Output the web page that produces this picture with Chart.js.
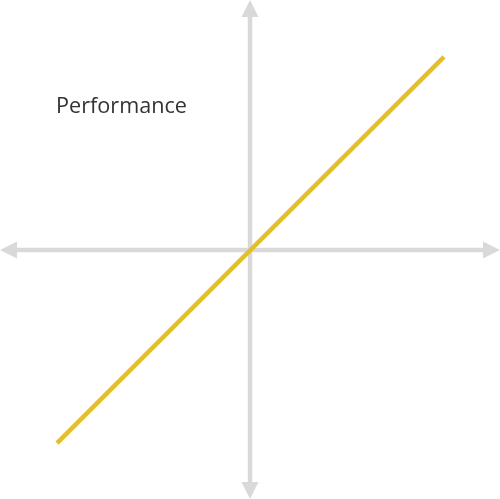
<!DOCTYPE html>
<html>
<head>
<meta charset="utf-8">
<script src="https://cdn.jsdelivr.net/npm/chart.js@4/dist/chart.umd.min.js"></script>
<style>
  html, body { margin: 0; padding: 0; background: #ffffff; }
  #wrap { width: 500px; height: 499px; position: relative; }
</style>
</head>
<body>
<div id="wrap"><canvas id="c"></canvas></div>
<script>
// Data
const lineX = [-0.772, 0.776];
const lineY = [-0.776, 0.772];
const axisMin = -1;
const axisMax = 1;
const titleText = "Performance";

const points = lineX.map((x, i) => ({ x: x, y: lineY[i] }));

const axesPlugin = {
  id: 'crossAxes',
  beforeDatasetsDraw(chart) {
    const ctx = chart.ctx;
    const xs = chart.scales.x, ys = chart.scales.y;
    const x0 = xs.getPixelForValue(0), y0 = ys.getPixelForValue(0) + 0.5;
    const left = xs.getPixelForValue(axisMin), right = xs.getPixelForValue(axisMax);
    const top = ys.getPixelForValue(axisMax), bottom = ys.getPixelForValue(axisMin);
    const head = 17, half = 8.5;
    ctx.save();
    ctx.strokeStyle = '#d9d9d9';
    ctx.fillStyle = '#d9d9d9';
    ctx.lineWidth = 4.5;
    // horizontal
    ctx.beginPath();
    ctx.moveTo(left + head - 1, y0); ctx.lineTo(right - head + 1, y0); ctx.stroke();
    // vertical
    ctx.beginPath();
    ctx.moveTo(x0, top + head - 1); ctx.lineTo(x0, bottom - head + 1); ctx.stroke();
    // arrow heads
    ctx.beginPath();
    ctx.moveTo(left, y0); ctx.lineTo(left + head, y0 - half); ctx.lineTo(left + head, y0 + half); ctx.closePath(); ctx.fill();
    ctx.beginPath();
    ctx.moveTo(right, y0); ctx.lineTo(right - head, y0 - half); ctx.lineTo(right - head, y0 + half); ctx.closePath(); ctx.fill();
    ctx.beginPath();
    ctx.moveTo(x0, top); ctx.lineTo(x0 - half, top + head); ctx.lineTo(x0 + half, top + head); ctx.closePath(); ctx.fill();
    ctx.beginPath();
    ctx.moveTo(x0, bottom); ctx.lineTo(x0 - half, bottom - head); ctx.lineTo(x0 + half, bottom - head); ctx.closePath(); ctx.fill();
    // title text
    ctx.fillStyle = '#333333';
    ctx.font = '21px "Open Sans"';
    ctx.textBaseline = 'alphabetic';
    ctx.textAlign = 'left';
    const w = ctx.measureText(titleText).width;
    ctx.save();
    ctx.translate(56, 112.5);
    ctx.scale(131 / w, 1);
    ctx.fillText(titleText, 0, 0);
    ctx.restore();
    ctx.restore();
  }
};

new Chart(document.getElementById('c'), {
  type: 'scatter',
  data: {
    datasets: [{
      data: points,
      showLine: true,
      borderColor: '#e5bf2b',
      borderWidth: 4.5,
      pointRadius: 0,
      borderCapStyle: 'butt'
    }]
  },
  options: {
    responsive: true,
    maintainAspectRatio: false,
    animation: false,
    layout: { padding: 0 },
    plugins: { legend: { display: false }, tooltip: { enabled: false }, title: { display: false } },
    scales: {
      x: { type: 'linear', min: axisMin, max: axisMax, display: false },
      y: { type: 'linear', min: axisMin, max: axisMax, display: false }
    }
  },
  plugins: [axesPlugin]
});
</script>
</body>
</html>
